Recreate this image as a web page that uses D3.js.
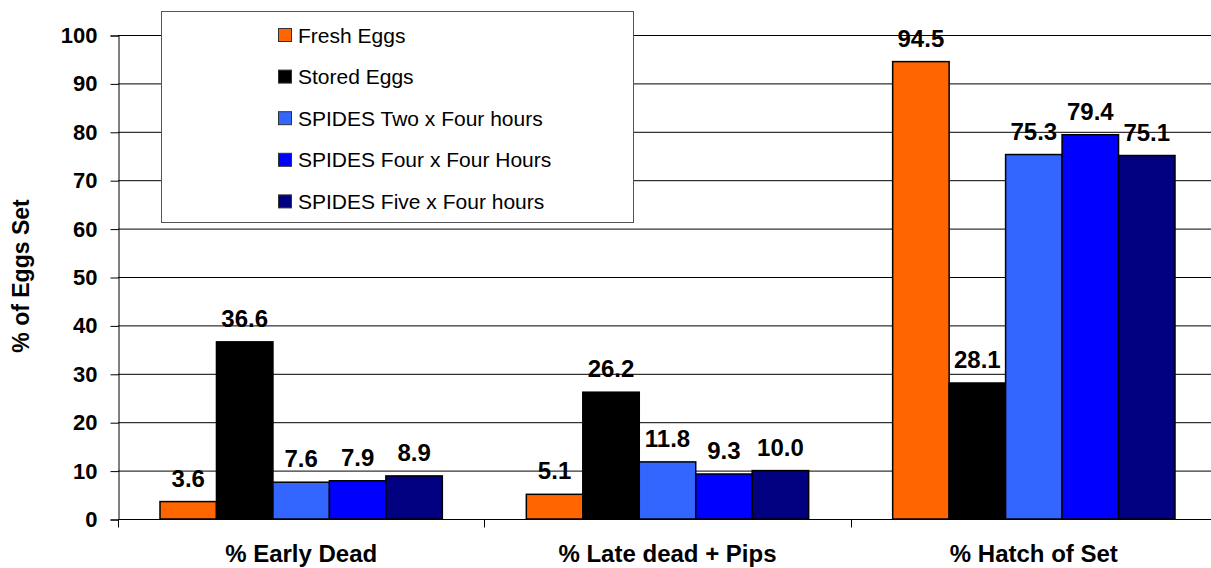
<!DOCTYPE html>
<html>
<head>
<meta charset="utf-8">
<script src="https://cdn.jsdelivr.net/npm/d3@7"></script>
<style>
  body { margin: 0; background: #fff; }
  svg { display: block; font-family: Arial, "Liberation Sans", sans-serif; }
</style>
</head>
<body>
<svg id="chart" width="1211" height="568"></svg>
<script>
const categories = ["% Early Dead", "% Late dead + Pips", "% Hatch of Set"];
const seriesNames = ["Fresh Eggs", "Stored Eggs", "SPIDES Two x Four hours", "SPIDES Four x Four Hours", "SPIDES Five x Four hours"];
const freshEggs = [3.6, 5.1, 94.5];
const storedEggs = [36.6, 26.2, 28.1];
const spidesTwo = [7.6, 11.8, 75.3];
const spidesFour = [7.9, 9.3, 79.4];
const spidesFive = [8.9, 10.0, 75.1];
const yTicks = [0, 10, 20, 30, 40, 50, 60, 70, 80, 90, 100];
const colors = ["#FF6600", "#000000", "#3366FF", "#0000FF", "#000080"];

const seriesValues = [freshEggs, storedEggs, spidesTwo, spidesFour, spidesFive];

const svg = d3.select("#chart");
const plotLeft = 118, plotRight = 1217, plotTop = 35, plotBottom = 519;

const x0 = d3.scaleBand().domain(categories).range([plotLeft, plotRight]).paddingInner(0).paddingOuter(0);
const x1 = d3.scaleBand().domain(seriesNames).range([42, x0.bandwidth() - 42]);
const y = d3.scaleLinear().domain([0, 100]).range([plotBottom, plotTop]);

// gridlines
svg.append("g")
  .selectAll("line")
  .data(yTicks.slice(1))
  .join("line")
  .attr("x1", plotLeft).attr("x2", 1211)
  .attr("y1", d => y(d) + 0.5).attr("y2", d => y(d) + 0.5)
  .attr("stroke", "#000").attr("stroke-width", 1);

// y axis
const yAxis = d3.axisLeft(y).tickValues(yTicks).tickSize(8).tickPadding(13);
const yg = svg.append("g").attr("transform", `translate(${plotLeft + 0.5},0.5)`).call(yAxis);
yg.select(".domain").attr("stroke", "#000");
yg.selectAll("text").attr("font-size", 22).attr("font-weight", "bold").attr("fill", "#000");

// x axis
const xg = svg.append("g").attr("transform", `translate(0,${plotBottom + 0.5})`);
xg.append("line").attr("x1", plotLeft).attr("x2", 1211).attr("stroke", "#000");
xg.selectAll("line.tk")
  .data(d3.range(categories.length + 1))
  .join("line").attr("class", "tk")
  .attr("x1", i => Math.round(plotLeft + i * x0.bandwidth()) + 0.5)
  .attr("x2", i => Math.round(plotLeft + i * x0.bandwidth()) + 0.5)
  .attr("y1", 0).attr("y2", 8)
  .attr("stroke", "#000");
xg.selectAll("text")
  .data(categories)
  .join("text")
  .attr("x", d => x0(d) + x0.bandwidth() / 2)
  .attr("y", 42)
  .attr("text-anchor", "middle")
  .attr("font-size", 24).attr("font-weight", "bold")
  .text(d => d);

// bars
const groups = svg.append("g")
  .selectAll("g")
  .data(categories)
  .join("g")
  .attr("transform", d => `translate(${x0(d)},0)`);

groups.each(function(cat, ci) {
  const g = d3.select(this);
  seriesNames.forEach((s, si) => {
    const v = seriesValues[si][ci];
    g.append("rect")
      .attr("x", x1(s))
      .attr("y", y(v))
      .attr("width", x1.bandwidth())
      .attr("height", y(0) - y(v))
      .attr("fill", colors[si])
      .attr("stroke", "#000").attr("stroke-width", 1.5);
    g.append("text")
      .attr("x", x1(s) + x1.bandwidth() / 2)
      .attr("y", y(v) - 15)
      .attr("text-anchor", "middle")
      .attr("font-size", 24).attr("font-weight", "bold")
      .text(v.toFixed(1));
  });
});

// axis title
svg.append("text")
  .attr("transform", "translate(28.5,276) rotate(-90)")
  .attr("text-anchor", "middle")
  .attr("font-size", 23).attr("font-weight", "bold")
  .text("% of Eggs Set");

// legend
const lg = svg.append("g");
lg.append("rect")
  .attr("x", 161.5).attr("y", 11.5).attr("width", 472).attr("height", 211)
  .attr("fill", "#fff").attr("stroke", "#555");
const items = lg.selectAll("g.item")
  .data(seriesNames)
  .join("g").attr("class", "item")
  .attr("transform", (d, i) => `translate(278,${35 + i * 41.6})`);
items.append("rect")
  .attr("x", 0.5).attr("y", -6.5).attr("width", 13).attr("height", 13)
  .attr("fill", (d, i) => colors[i]).attr("stroke", "#333");
items.append("text")
  .attr("x", 20).attr("y", 7.5)
  .attr("font-size", 21)
  .text(d => d);
</script>
</body>
</html>
